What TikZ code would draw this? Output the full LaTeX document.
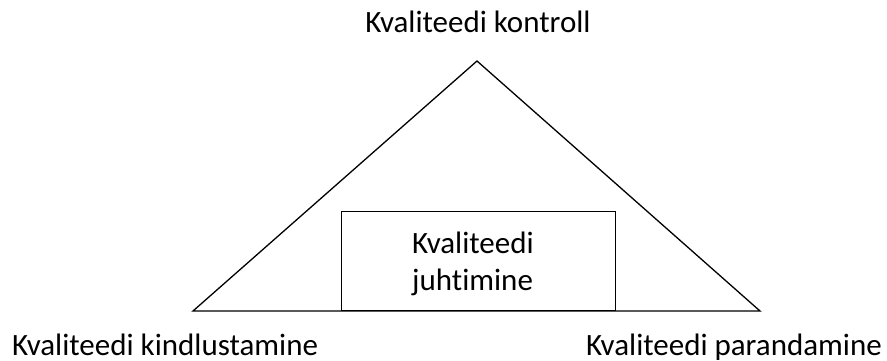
\documentclass[tikz,border=0pt]{standalone}
\usepackage{fontspec}
\setmainfont[Ligatures=NoCommon]{Carlito}
\begin{document}
\begin{tikzpicture}[
    x=1pt,
    y=-1pt,
    edge/.style={line width=1.3pt},
    caption/.style={font=\fontsize{31}{37}\selectfont,inner sep=0pt}
  ]
    \useasboundingbox (0,0) rectangle (887,361);

    \coordinate (apex) at (477,61);
    \coordinate (baseL) at (193,311);
    \coordinate (baseR) at (760,311);
    \draw[edge,line join=miter] (baseL) -- (apex) -- (baseR) -- cycle;

    \node[edge,draw,inner sep=0pt,minimum width=274pt,minimum height=99pt,
      anchor=south west] (juht) at (341,311) {};
    \node[caption,align=left,anchor=base west] (juhttext) at (412,290)
      {Kvaliteedi\\juhtimine};

    \node[caption,anchor=base] (kontroll) at (478,33) {Kvaliteedi kontroll};
    \node[caption,anchor=base west] (kindlus) at (12,355)
      {Kvaliteedi kindlustamine};
    \node[caption,anchor=base east] (parand) at (882,355)
      {Kvaliteedi parandamine};
  \end{tikzpicture}
\end{document}
